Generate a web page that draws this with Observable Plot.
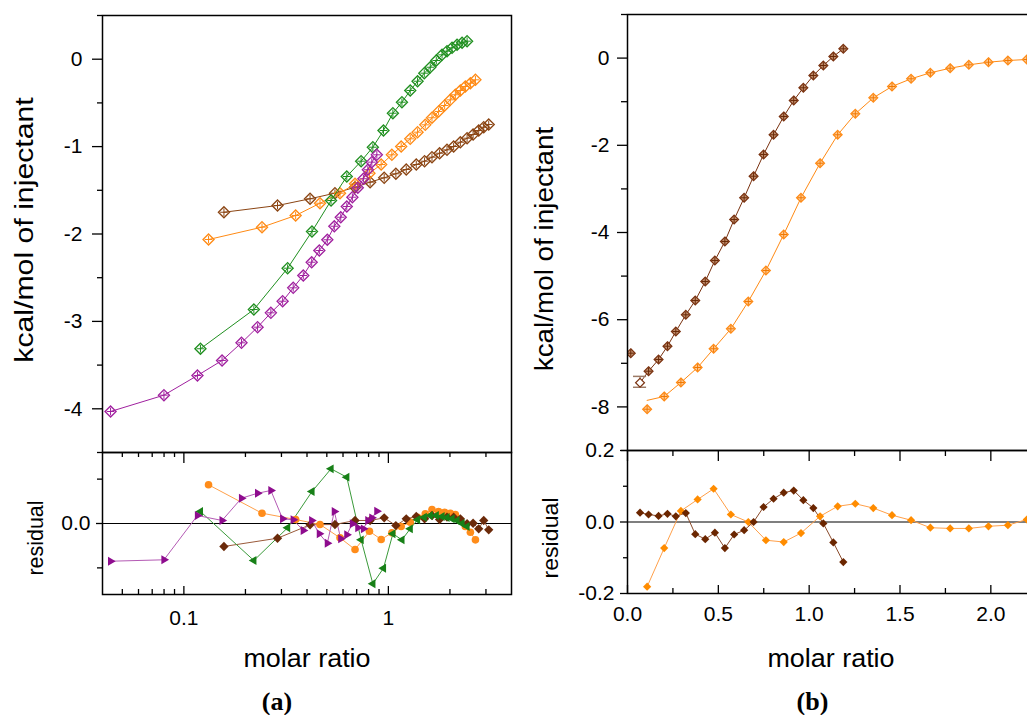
<!DOCTYPE html>
<html><head><meta charset="utf-8">
<script src="https://cdn.jsdelivr.net/npm/d3@7"></script>
<script src="https://cdn.jsdelivr.net/npm/@observablehq/plot@0.6"></script>
<style>
body{margin:0;background:#fff;}
#fig{position:relative;width:1027px;height:715px;overflow:hidden;background:#fff;font-family:"Liberation Sans",Arial,Helvetica,sans-serif;}
#fig svg{position:absolute;left:0;top:0;}
.lab{position:absolute;white-space:nowrap;line-height:1;transform-origin:50% 50%;color:#000;}
</style></head><body><div id="fig"></div>
<script>
// ---------- Panel (a): log x, four series ----------
const aBrownX = [0.157,0.287,0.414,0.548,0.687,0.814,0.954,1.088,1.223,1.369,1.503,1.634,1.780,1.935,2.085,2.249,2.426,2.596,2.765,2.926,3.095];
const aBrownY = [-1.751,-1.674,-1.597,-1.533,-1.465,-1.407,-1.357,-1.311,-1.262,-1.205,-1.167,-1.121,-1.076,-1.037,-0.999,-0.950,-0.904,-0.862,-0.816,-0.778,-0.747];
const aBrownRes = [-0.259,-0.166,-0.015,-0.011,0.034,0.034,0.064,-0.023,0.053,0.079,0.053,0.090,0.045,0.071,0.071,0.053,-0.003,0.003,-0.060,0.034,-0.071];

const aOrangeX = [0.132,0.241,0.352,0.463,0.580,0.687,0.808,0.922,1.040,1.155,1.279,1.389,1.515,1.634,1.760,1.884,2.009,2.126,2.249,2.379,2.518,2.665];
const aOrangeY = [-2.063,-1.922,-1.788,-1.648,-1.533,-1.426,-1.304,-1.205,-1.094,-0.999,-0.911,-0.835,-0.751,-0.670,-0.598,-0.530,-0.465,-0.407,-0.358,-0.312,-0.275,-0.236];
const aOrangeRes = [0.436,0.116,0.045,-0.011,-0.161,-0.293,-0.087,-0.180,-0.105,-0.034,0.015,0.071,0.109,0.158,0.135,0.127,0.116,0.101,0.034,-0.034,-0.098,-0.184];

const aGreenX = [0.1205,0.2199,0.3216,0.4231,0.5243,0.6261,0.7358,0.8396,0.9463,1.052,1.165,1.279,1.389,1.498,1.603,1.715,1.830,1.935,2.048,2.167,2.293,2.426];
const aGreenY = [-3.313,-2.864,-2.391,-1.971,-1.617,-1.342,-1.167,-1.007,-0.816,-0.618,-0.492,-0.358,-0.252,-0.160,-0.092,-0.015,0.050,0.092,0.130,0.165,0.188,0.206];
const aGreenRes = [0.135,-0.417,-0.048,0.360,0.616,0.522,-0.184,-0.679,-0.504,-0.116,-0.184,-0.060,0.042,0.071,0.090,0.090,0.079,0.068,0.053,0.034,0.000,-0.034];

const aPurpleX = [0.0438,0.0799,0.1165,0.1537,0.1913,0.2293,0.2663,0.3040,0.3425,0.3836,0.4217,0.4595,0.5028,0.5441,0.5850,0.6261,0.6668,0.7087,0.7550,0.7935,0.8300,0.8782];
const aPurpleY = [-4.031,-3.844,-3.619,-3.447,-3.245,-3.066,-2.902,-2.769,-2.616,-2.475,-2.323,-2.189,-2.066,-1.911,-1.808,-1.685,-1.579,-1.471,-1.368,-1.265,-1.178,-1.094];
const aPurpleRes = [-0.425,-0.409,0.090,0.034,0.285,0.341,0.372,0.053,0.042,-0.079,0.034,-0.116,-0.222,0.135,-0.172,-0.127,-0.003,-0.048,-0.060,0.034,0.064,0.139];

const aYTickLabels = [-4,-3,-2,-1,0];
const aXTickLabels = [0.1, 1];
const aXMinor = [0.05,0.06,0.07,0.08,0.09,0.2,0.3,0.4,0.5,0.6,0.7,0.8,0.9,2,3];

// ---------- Panel (b): linear x, two series ----------
const bBrownX = [0.018,0.069,0.116,0.171,0.220,0.266,0.321,0.373,0.428,0.481,0.536,0.587,0.642,0.694,0.749,0.804,0.860,0.915,0.968,1.023,1.078,1.133,1.188];
const bBrownY = [-6.768,-7.447,-7.181,-6.913,-6.608,-6.271,-5.888,-5.560,-5.124,-4.642,-4.206,-3.702,-3.204,-2.709,-2.211,-1.759,-1.339,-0.972,-0.681,-0.399,-0.170,0.037,0.213];
const bBrownRes = [0.026,0.021,0.017,0.023,0.016,0.025,-0.034,-0.048,-0.030,-0.073,-0.035,-0.023,0.000,0.042,0.065,0.082,0.088,0.061,0.039,-0.004,-0.057,-0.112];
const bBrownErr = [-7.55, -7.30]; // error bar of the open point

const bOrangeX = [0.108,0.202,0.294,0.386,0.474,0.569,0.665,0.762,0.860,0.955,1.060,1.157,1.254,1.353,1.456,1.561,1.667,1.776,1.879,1.987,2.094,2.198];
const bOrangeY = [-8.053,-7.761,-7.440,-7.096,-6.667,-6.209,-5.583,-4.872,-4.046,-3.204,-2.411,-1.759,-1.278,-0.911,-0.651,-0.475,-0.337,-0.232,-0.154,-0.094,-0.055,-0.032];
const bOrangeRes = [-0.181,-0.073,0.031,0.063,0.093,0.021,0.000,-0.051,-0.056,-0.031,0.016,0.044,0.051,0.039,0.019,0.005,-0.016,-0.018,-0.018,-0.012,-0.009,0.007];
const bOrangeFitStart = [0.108, -7.85];

const bYTickLabels = [-8,-6,-4,-2,0];
const bYMinor = [-9,-7,-5,-3,-1,1];
const bResTicks = [-0.2,0,0.2];
const bXTickLabels = [0,0.5,1,1.5,2];
const bXMinor = [0.25,0.75,1.25,1.75,2.25];

// ---------- colours ----------
const cBrown="#8B4513", cOrange="#FF8A14", cGreen="#1F8F1F", cPurple="#A0209F";
const rBrown="#6B2A0A", rOrange="#FF8C1A", rGreen="#178017", rPurple="#8E0C8E";

const fig = document.getElementById("fig");
const font = '"Liberation Sans", Arial, Helvetica, sans-serif';
const pts = (xs, ys) => xs.map((x,i)=>({x, y: ys[i]}));
function mk(opts){
  const svg = Plot.plot({...opts, style:{background:"transparent", maxWidth:"none", overflow:"visible", fontFamily: font}});
  svg.style.position="absolute"; svg.style.left="0px"; svg.style.top="0px";
  fig.appendChild(svg);
}
const fmtInt = d => String(d);

// ---- (a) top ----
const aSeries = [
  {x:aBrownX, y:aBrownY, c:cBrown},
  {x:aOrangeX, y:aOrangeY, c:cOrange},
  {x:aGreenX, y:aGreenY, c:cGreen},
  {x:aPurpleX, y:aPurpleY, c:cPurple}
];
mk({
  width:1027, height:715, marginLeft:102, marginRight:516, marginTop:15, marginBottom:263,
  x:{type:"log", domain:[0.04,4], axis:null},
  y:{domain:[-4.5,0.5]},
  marks:[
    Plot.axisY({ticks:aYTickLabels, tickSize:10, tickPadding:10, fontSize:21, tickFormat:fmtInt, label:null, strokeWidth:1.3}),
    Plot.axisY({ticks:d3.range(-4.5,0.51,0.5).filter(v=>!Number.isInteger(v)), tickSize:5, tickFormat:()=>"", label:null, strokeWidth:1.3}),
    ...aSeries.flatMap(s=>[
      Plot.line(pts(s.x,s.y), {x:"x", y:"y", stroke:s.c, strokeWidth:1}),
      Plot.dot(pts(s.x,s.y), {x:"x", y:"y", symbol:"diamond2", r:5, stroke:s.c, strokeWidth:1.3, fill:"none"}),
      Plot.dot(pts(s.x,s.y), {x:"x", y:"y", symbol:"plus", r:2.6, stroke:s.c, strokeWidth:1})
    ]),
    Plot.frame({stroke:"black", strokeWidth:1.5})
  ]
});

// ---- (a) residuals ----
const aResH = 142;
mk({
  width:1027, height:715, marginLeft:102, marginRight:516, marginTop:452, marginBottom:121,
  x:{type:"log", domain:[0.04,4]},
  y:{domain:[-0.8,0.8]},
  marks:[
    Plot.ruleY([0], {stroke:"black", strokeWidth:1.2}),
    Plot.axisY({ticks:[0], tickSize:6, tickPadding:6, fontSize:21, tickFormat:d=>d.toFixed(1), label:null, strokeWidth:1.3}),
    Plot.axisY({ticks:[-0.5,0.5], tickSize:5, tickFormat:()=>"", label:null, strokeWidth:1.3}),
    Plot.axisX({ticks:aXTickLabels, tickSize:0, tickPadding:16, fontSize:21, tickFormat:d=> d<1 ? "0.1" : "1", label:null}),
    Plot.tickX(aXTickLabels, {x:d=>d, insetBottom:aResH-11, stroke:"black", strokeWidth:1.3}),
    Plot.tickX(aXMinor, {x:d=>d, insetBottom:aResH-5, stroke:"black", strokeWidth:1.3}),
    Plot.tickX(aXTickLabels, {x:d=>d, insetTop:aResH-8, stroke:"black", strokeWidth:1.3}),
    Plot.tickX(aXMinor, {x:d=>d, insetTop:aResH-5, stroke:"black", strokeWidth:1.3}),
    Plot.line(pts(aOrangeX,aOrangeRes), {x:"x", y:"y", stroke:"#FFA04A", strokeWidth:1}),
    Plot.line(pts(aBrownX,aBrownRes), {x:"x", y:"y", stroke:"#9A5A3A", strokeWidth:1}),
    Plot.line(pts(aGreenX,aGreenRes), {x:"x", y:"y", stroke:"#3A9A3A", strokeWidth:1}),
    Plot.line(pts(aPurpleX,aPurpleRes), {x:"x", y:"y", stroke:"#B45AB4", strokeWidth:1}),
    Plot.dot(pts(aOrangeX,aOrangeRes), {x:"x", y:"y", r:3.8, fill:rOrange}),
    Plot.dot(pts(aBrownX,aBrownRes), {x:"x", y:"y", symbol:"diamond2", r:4.2, fill:rBrown}),
    Plot.dot(pts(aGreenX,aGreenRes), {x:"x", y:"y", symbol:"triangle", r:3.3, fill:rGreen, rotate:-90}),
    Plot.dot(pts(aPurpleX,aPurpleRes), {x:"x", y:"y", symbol:"triangle", r:3.3, fill:rPurple, rotate:90}),
    Plot.frame({stroke:"black", strokeWidth:1.5})
  ]
});

// ---- (b) top ----
const bBrownLine = pts(bBrownX.slice(1), bBrownY.slice(1));
const bOrangeLine = [{x:bOrangeFitStart[0], y:bOrangeFitStart[1]}, ...pts(bOrangeX,bOrangeY).slice(1)];
const bBrownPts = pts(bBrownX,bBrownY);
const bBrownFilled = bBrownPts.filter((d,i)=>i!==1);
const bBrownOpen = [bBrownPts[1]];
mk({
  width:1100, height:715, marginLeft:627, marginRight:37, marginTop:14, marginBottom:265,
  x:{domain:[0,2.4], axis:null},
  y:{domain:[-9,1]},
  marks:[
    Plot.axisY({ticks:bYTickLabels, tickSize:10, tickPadding:8, fontSize:21, tickFormat:fmtInt, label:null, strokeWidth:1.3}),
    Plot.axisY({ticks:bYMinor, tickSize:6, tickFormat:()=>"", label:null, strokeWidth:1.3}),
    Plot.line(bBrownLine, {x:"x", y:"y", stroke:"#7A3210", strokeWidth:1}),
    Plot.line(bOrangeLine, {x:"x", y:"y", stroke:cOrange, strokeWidth:1}),
    Plot.ruleX(bBrownOpen, {x:"x", y1:bBrownErr[0], y2:bBrownErr[1], stroke:"#9C7A66", strokeWidth:1.2}),
    Plot.ruleY(bBrownErr, {y:d=>d, x1:bBrownX[1]-0.036, x2:bBrownX[1]+0.036, stroke:"#9C7A66", strokeWidth:1.5}),
    Plot.dot(bBrownFilled, {x:"x", y:"y", symbol:"diamond2", r:4, stroke:"#7A3210", fill:"#C2906F", strokeWidth:1.2, clip:true}),
    Plot.dot(bBrownFilled, {x:"x", y:"y", symbol:"plus", r:2.3, stroke:"#6A2A08", strokeWidth:1, clip:true}),
    Plot.dot(bBrownOpen, {x:"x", y:"y", symbol:"diamond2", r:4, stroke:"#7A3210", fill:"white", strokeWidth:1.2}),
    Plot.dot(pts(bOrangeX,bOrangeY), {x:"x", y:"y", symbol:"diamond2", r:4, stroke:cOrange, fill:"#FFCB96", strokeWidth:1.2, clip:true}),
    Plot.dot(pts(bOrangeX,bOrangeY), {x:"x", y:"y", symbol:"plus", r:2.3, stroke:"#F07800", strokeWidth:1, clip:true}),
    Plot.frame({stroke:"black", strokeWidth:1.5})
  ]
});

// ---- (b) residuals ----
const bResH = 143;
mk({
  width:1100, height:715, marginLeft:627, marginRight:37, marginTop:450, marginBottom:122,
  x:{domain:[0,2.4]},
  y:{domain:[-0.2,0.2]},
  marks:[
    Plot.ruleY([0], {stroke:"black", strokeWidth:1.2}),
    Plot.axisY({ticks:bResTicks, tickSize:7, tickPadding:6, fontSize:21, tickFormat:d=>d.toFixed(1), label:null, strokeWidth:1.3}),
    Plot.axisY({ticks:[-0.1,0.1], tickSize:4, tickFormat:()=>"", label:null, strokeWidth:1.3}),
    Plot.axisX({ticks:bXTickLabels, tickSize:0, tickPadding:13, fontSize:21, tickFormat:d=>d.toFixed(1), label:null}),
    Plot.tickX(bXTickLabels, {x:d=>d, insetBottom:bResH-11, stroke:"black", strokeWidth:1.3}),
    Plot.tickX(bXMinor, {x:d=>d, insetBottom:bResH-6, stroke:"black", strokeWidth:1.3}),
    Plot.tickX(bXTickLabels, {x:d=>d, insetTop:bResH-8, stroke:"black", strokeWidth:1.3}),
    Plot.tickX(bXMinor, {x:d=>d, insetTop:bResH-5, stroke:"black", strokeWidth:1.3}),
    Plot.line(pts(bOrangeX,bOrangeRes), {x:"x", y:"y", stroke:"#FFA04A", strokeWidth:1}),
    Plot.line(pts(bBrownX.slice(1),bBrownRes), {x:"x", y:"y", stroke:"#8A4A2A", strokeWidth:1}),
    Plot.dot(pts(bOrangeX,bOrangeRes), {x:"x", y:"y", symbol:"diamond2", r:3.7, fill:"#FF8C00"}),
    Plot.dot(pts(bBrownX.slice(1),bBrownRes), {x:"x", y:"y", symbol:"diamond2", r:3.7, fill:"#6B2600"}),
    Plot.frame({stroke:"black", strokeWidth:1.5})
  ]
});

// ---------- axis titles and panel letters ----------
function lab(text, cx, cy, size, {rotate=false, length=null, weight="normal", family=font}={}){
  const d = document.createElement("div");
  d.className="lab"; d.textContent=text;
  d.style.fontSize=size+"px"; d.style.fontWeight=weight; d.style.fontFamily=family;
  d.style.left=cx+"px"; d.style.top=cy+"px";
  fig.appendChild(d);
  let t = "translate(-50%,-50%)";
  if (rotate) t += " rotate(-90deg)";
  if (length) t += ` scaleX(${length/d.offsetWidth})`;
  d.style.transform = t;
}
lab("kcal/mol of injectant", 24, 230, 25, {rotate:true, length:266});
lab("kcal/mol of injectant", 544, 249, 25, {rotate:true, length:245});
lab("residual", 35.5, 537.5, 22, {rotate:true, length:75});
lab("residual", 551, 537.5, 22, {rotate:true, length:81});
lab("molar ratio", 306.7, 658, 25, {length:127});
lab("molar ratio", 830.7, 658, 25, {length:127});
lab("(a)", 277, 702, 26, {weight:"bold", family:'"Liberation Serif","DejaVu Serif",serif'});
lab("(b)", 812.5, 702, 26, {weight:"bold", family:'"Liberation Serif","DejaVu Serif",serif'});
</script>
</body></html>
